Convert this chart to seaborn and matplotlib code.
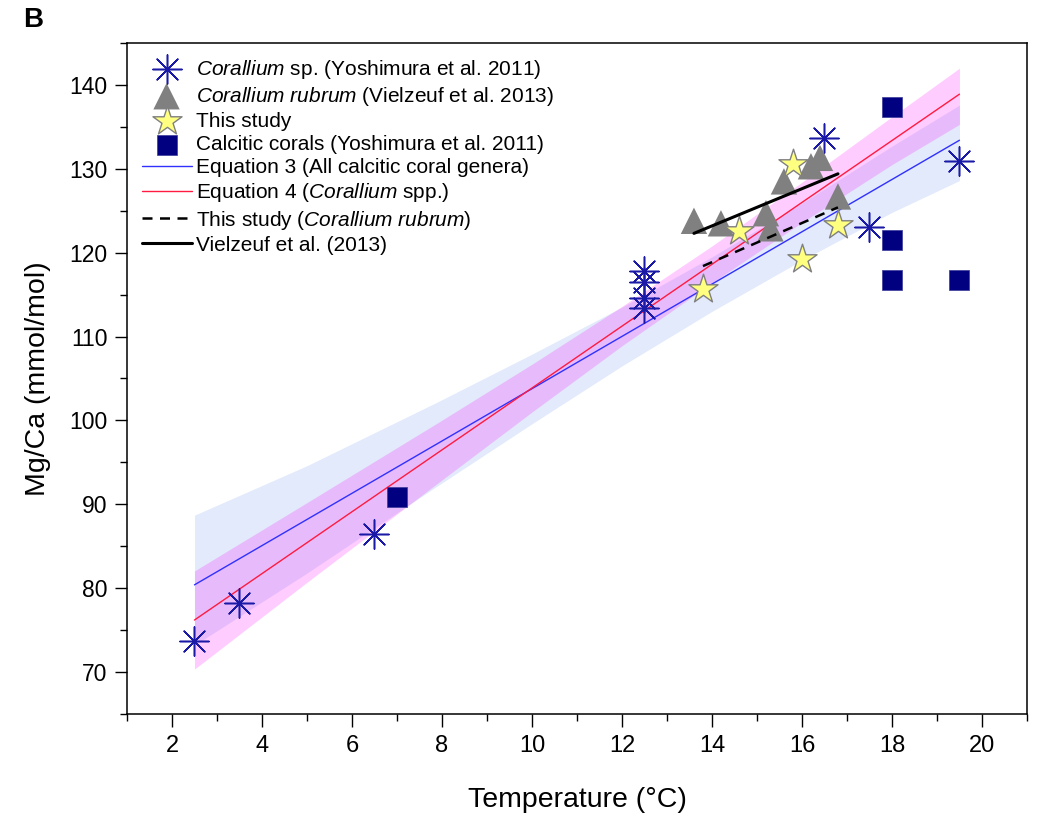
import numpy as np
import pandas as pd
import seaborn as sns
import matplotlib.pyplot as plt
from matplotlib.ticker import MultipleLocator

# Corallium sp. (Yoshimura et al. 2011)
cor_sp_t = [2.5, 3.5, 6.5, 12.5, 12.5, 12.5, 12.5, 16.5, 17.5, 19.5]
cor_sp_mg = [73.7, 78.2, 86.5, 117.8, 116.5, 114.6, 113.4, 133.7, 123.0, 130.9]

# Corallium rubrum (Vielzeuf et al. 2013)
rubrum_t = [13.6, 14.2, 15.2, 15.3, 15.6, 16.2, 16.4, 16.8]
rubrum_mg = [123.8, 123.5, 124.7, 122.9, 128.5, 130.3, 131.3, 126.7]

# This study
study_t = [13.8, 14.6, 15.8, 16.0, 16.8]
study_mg = [115.7, 122.6, 130.6, 119.2, 123.3]

# Calcitic corals (Yoshimura et al. 2011)
calc_t = [7.0, 18.0, 18.0, 18.0, 19.5]
calc_mg = [90.9, 137.4, 121.5, 116.7, 116.7]

# fitted equations (slope, intercept) and their range
eq3_slope, eq3_icpt = 3.118, 72.6
eq4_slope, eq4_icpt = 3.688, 66.98
fit_t = [2.5, 19.5]

# confidence bands
band_t = [2.5, 5, 7.9, 10, 12, 14, 16, 18, 19.5]
eq3_lo = [73.2, 81.8, 92.2, 99.6, 106.5, 113.0, 119.1, 124.8, 128.6]
eq3_hi = [88.7, 94.6, 102.2, 107.9, 113.5, 119.5, 125.9, 132.7, 137.6]
eq4_lo = [70.35, 80.7, 92.5, 101.0, 108.9, 116.4, 123.6, 130.5, 135.3]
eq4_hi = [82.05, 90.2, 99.7, 106.7, 113.6, 120.8, 128.4, 136.2, 142.0]

# short regression lines
viel_t = [13.6, 16.8]
viel_mg = [122.3, 129.4]
this_t = [13.8, 16.8]
this_mg = [118.4, 125.4]

sns.set_style("ticks")
plt.rcParams['font.family'] = ['Liberation Sans', 'DejaVu Sans']
plt.rcParams['mathtext.fontset'] = 'custom'
plt.rcParams['mathtext.it'] = 'Liberation Sans:italic'
plt.rcParams['mathtext.rm'] = 'Liberation Sans'
plt.rcParams['text.color'] = 'black'
plt.rcParams['axes.labelcolor'] = 'black'
plt.rcParams['xtick.color'] = 'black'
plt.rcParams['ytick.color'] = 'black'

fig = plt.figure(figsize=(10.39, 8.17), dpi=100)
ax = fig.add_axes([0.1222, 0.1261, 0.8662, 0.8213])

# bands first, points on top
ax.fill_between(band_t, eq3_lo, eq3_hi, color='#6e96eb', alpha=0.2, lw=0, zorder=1)
ax.fill_between(band_t, eq4_lo, eq4_hi, color='#ff00ff', alpha=0.2, lw=0, zorder=1)

sns.scatterplot(x=cor_sp_t, y=cor_sp_mg, marker=(8, 2, 0), s=21**2, color='#1a1aa6',
                edgecolor='#1a1aa6', linewidth=1.1, ax=ax, zorder=3,
                label=r'$\it{Corallium}$ sp. (Yoshimura et al. 2011)')
sns.scatterplot(x=rubrum_t, y=rubrum_mg, marker='^', s=19**2, color='#808080',
                edgecolor='none', ax=ax, zorder=3,
                label=r'$\it{Corallium\ rubrum}$ (Vielzeuf et al. 2013)')
sns.scatterplot(x=calc_t, y=calc_mg, marker='s', s=14**2, color='#000080',
                edgecolor='#3a3a9a', linewidth=0.5, ax=ax, zorder=3,
                label='Calcitic corals (Yoshimura et al. 2011)')

fit = pd.DataFrame({'t': fit_t})
fit['eq3'] = eq3_icpt + eq3_slope * fit['t']
fit['eq4'] = eq4_icpt + eq4_slope * fit['t']
sns.lineplot(data=fit, x='t', y='eq3', color='#3030ff', lw=1.0, ax=ax, zorder=2,
             label='Equation 3 (All calcitic coral genera)')
sns.lineplot(data=fit, x='t', y='eq4', color='#ff1a40', lw=1.0, ax=ax, zorder=2,
             label=r'Equation 4 ($\it{Corallium}$ spp.)')

sns.scatterplot(x=study_t, y=study_mg, marker='*', s=22**2, color='#ffff80',
                edgecolor='#808080', linewidth=1.0, ax=ax, zorder=4, label='This study')

sns.lineplot(x=this_t, y=this_mg, color='black', lw=1.8, ls=(0, (4, 3)), ax=ax, zorder=5,
             label=r'This study ($\it{Corallium\ rubrum}$)')
sns.lineplot(x=viel_t, y=viel_mg, color='black', lw=2.2, ax=ax, zorder=5,
             label='Vielzeuf et al. (2013)')

ax.set_xlim(1, 21)
ax.set_ylim(65, 145)
ax.xaxis.set_major_locator(MultipleLocator(2))
ax.xaxis.set_minor_locator(MultipleLocator(1))
ax.yaxis.set_major_locator(MultipleLocator(10))
ax.yaxis.set_minor_locator(MultipleLocator(5))
ax.set_xticks(np.arange(2, 21, 2))
ax.set_yticks(np.arange(70, 141, 10))
ax.tick_params(which='major', direction='out', length=9, width=1.0, top=False, right=False)
ax.tick_params(which='minor', direction='out', length=5, width=1.0, top=False, right=False)
ax.tick_params(axis='y', labelsize=16.5, pad=5)
ax.tick_params(axis='x', labelsize=17, pad=6)
for sp in ax.spines.values():
    sp.set_linewidth(1.1)
    sp.set_color('black')

ax.set_xlabel('Temperature (°C)', fontsize=20.5, labelpad=22)
ax.set_ylabel('Mg/Ca (mmol/mol)', fontsize=20.5, labelpad=13)

h, l = ax.get_legend_handles_labels()
order = [0, 1, 5, 2, 3, 4, 6, 7]
ax.legend([h[i] for i in order], [l[i] for i in order], loc='upper left',
          bbox_to_anchor=(0.0, 1.0), frameon=False, fontsize=15, labelspacing=0.2,
          handlelength=2.4, handletextpad=0.2, borderpad=0.5, borderaxespad=0.2)

fig.text(0.022, 0.992, 'B', fontsize=20, weight='heavy', va='top', ha='left')

plt.savefig('out.png', dpi=100)
